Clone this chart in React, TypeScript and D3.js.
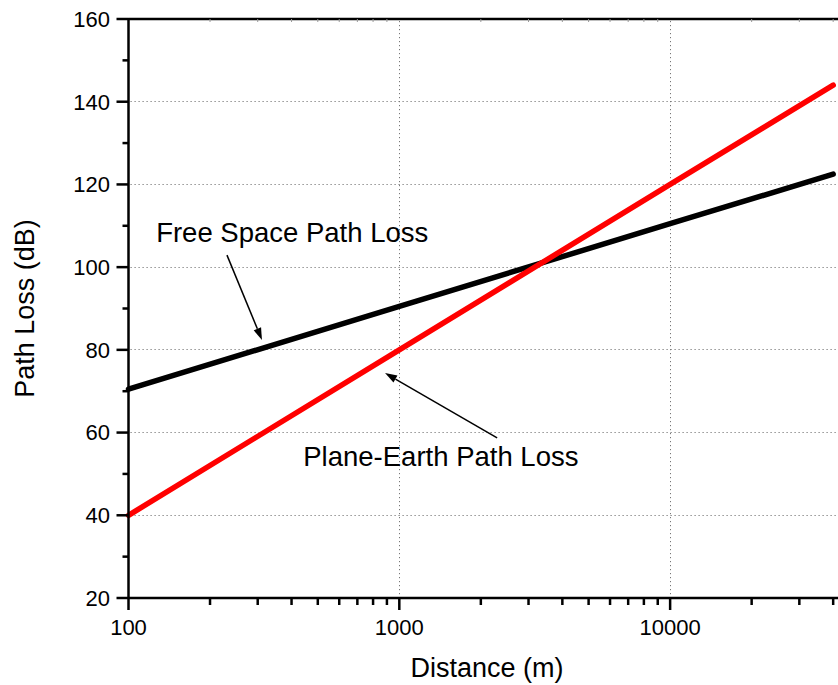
import React from "react";
import { scaleLog, scaleLinear, line } from "d3";

// distance samples (m) and path loss readings (dB)
const distances = [100, 1000, 10000, 40000];
const freeSpace = [70.5, 90.5, 110.5, 122.5];
const planeEarth = [40, 80, 120, 144];

const yTicks = [20, 40, 60, 80, 100, 120, 140, 160];
const yMinor = [30, 50, 70, 90, 110, 130, 150];
const xTicks = [100, 1000, 10000];
const xMinor = [
  200, 300, 400, 500, 600, 700, 800, 900,
  2000, 3000, 4000, 5000, 6000, 7000, 8000, 9000,
  20000, 30000, 40000,
];

// annotations in data units: label position, arrow tail and tip
const annFree = { label: "Free Space Path Loss", at: [126.5, 106.1], tail: [231, 102.9], tip: [311, 82.4] };
const annPlane = { label: "Plane-Earth Path Loss", at: [442, 51.9], tail: [2297, 58.7], tip: [886, 74.4] };

const W = 838;
const H = 685;
const font = "Arial, 'Liberation Sans', sans-serif";

const crisp = (v: number) => Math.round(v - 0.5) + 0.5;

export default function App() {
  const x = scaleLog().domain([100, 41500]).range([128.5, 837.5]);
  const y = scaleLinear().domain([20, 160]).range([598, 19]);
  const x0 = x.range()[0];

  const path = line<number>()
    .x((_, i) => x(distances[i]))
    .y((d) => y(d));

  const arrow = (a: typeof annFree, key: string) => {
    const x1 = x(a.tail[0]);
    const y1 = y(a.tail[1]);
    const x2 = x(a.tip[0]);
    const y2 = y(a.tip[1]);
    const ang = Math.atan2(y2 - y1, x2 - x1);
    const len = 12;
    const hw = 4;
    const bx = x2 - len * Math.cos(ang);
    const by = y2 - len * Math.sin(ang);
    const px = -Math.sin(ang) * hw;
    const py = Math.cos(ang) * hw;
    return (
      <g key={key}>
        <line x1={x1} y1={y1} x2={bx} y2={by} stroke="#000" strokeWidth={1.5} />
        <polygon
          points={`${x2},${y2} ${bx + px},${by + py} ${bx - px},${by - py}`}
          fill="#000"
        />
        <text x={x(a.at[0])} y={y(a.at[1])} fontSize={27.5} fontFamily={font}>
          {a.label}
        </text>
      </g>
    );
  };

  return (
    <svg
      width={W}
      height={H}
      style={{ position: "absolute", left: 0, top: 0, background: "#fff" }}
    >
      <rect width={W} height={H} fill="#fff" />
      {/* grid */}
      <g stroke="#777" strokeWidth={1} strokeDasharray="1.2,2.8">
        {yTicks.filter((t) => t > 20 && t < 160).map((t) => (
          <line key={"gy" + t} x1={x0 + 2} x2={W} y1={crisp(y(t))} y2={crisp(y(t))} />
        ))}
        {xTicks.filter((t) => t > 100).map((t) => (
          <line key={"gx" + t} x1={crisp(x(t))} x2={crisp(x(t))} y1={y(160) + 2} y2={y(20)} />
        ))}
      </g>

      {/* series */}
      <path d={path(freeSpace) ?? ""} fill="none" stroke="#000" strokeWidth={5.5} strokeLinecap="round" />
      <path d={path(planeEarth) ?? ""} fill="none" stroke="#ff0000" strokeWidth={5.5} strokeLinecap="round" />

      {/* axes */}
      <g stroke="#000" strokeWidth={2.5}>
        <line x1={x0} x2={W} y1={y(20)} y2={y(20)} />
        <line x1={x0} x2={W} y1={y(160)} y2={y(160)} />
        <line x1={x0} x2={x0} y1={y(160) - 1} y2={y(20) + 1} />
        {xTicks.map((t) => (
          <line key={"xt" + t} x1={x(t)} x2={x(t)} y1={y(20)} y2={y(20) + 12} />
        ))}
        {xMinor.map((t) => (
          <line key={"xm" + t} x1={x(t)} x2={x(t)} y1={y(20)} y2={y(20) + 7} />
        ))}
        {xMinor.map((t) => (
          <line key={"xtm" + t} x1={x(t)} x2={x(t)} y1={y(160)} y2={y(160) + 3} strokeWidth={1} stroke="#999" />
        ))}
        {yTicks.map((t) => (
          <line key={"yt" + t} x1={x0 - 12} x2={x0} y1={y(t)} y2={y(t)} />
        ))}
        {yMinor.map((t) => (
          <line key={"ym" + t} x1={x0 - 6} x2={x0} y1={y(t)} y2={y(t)} />
        ))}
      </g>

      <g fontFamily={font} fontSize={22} fill="#000">
        {xTicks.map((t) => (
          <text key={"xl" + t} x={x(t)} y={635} textAnchor="middle">
            {t}
          </text>
        ))}
        {yTicks.map((t) => (
          <text key={"yl" + t} x={110} y={y(t)} dy="0.36em" textAnchor="end">
            {t}
          </text>
        ))}
      </g>

      <text x={487} y={677} textAnchor="middle" fontFamily={font} fontSize={27}>
        Distance (m)
      </text>
      <text
        transform={`translate(34,${(y(20) + y(160)) / 2}) rotate(-90)`}
        textAnchor="middle"
        fontFamily={font}
        fontSize={27}
      >
        Path Loss (dB)
      </text>

      {[annFree, annPlane].map((a, i) => arrow(a, "a" + i))}
    </svg>
  );
}
